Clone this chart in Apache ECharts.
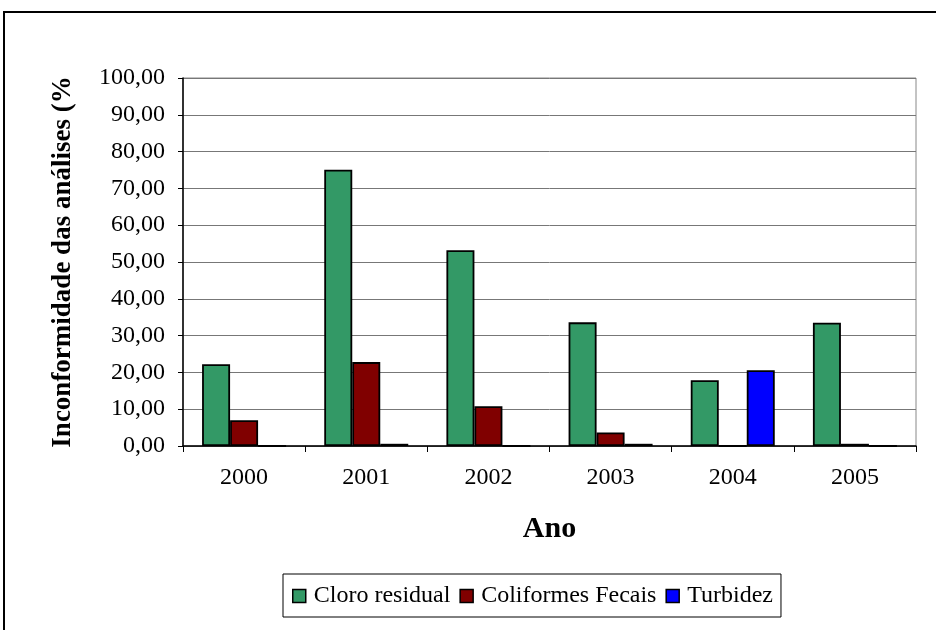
<!DOCTYPE html>
<html>
<head>
<meta charset="utf-8">
<script src="https://cdn.jsdelivr.net/npm/echarts@6/dist/echarts.min.js"></script>
<style>
  html, body { margin: 0; padding: 0; background: #fff; }
  #chart { width: 936px; height: 630px; }
</style>
</head>
<body>
<div id="chart"></div>
<script>
// Percentage of non-conforming analyses per year and parameter
const anos = ['2000', '2001', '2002', '2003', '2004', '2005'];
const cloroResidual = [22.2, 75.1, 53.2, 33.6, 17.9, 33.5];
const coliformesFecais = [7.0, 22.8, 10.8, 3.7, 0, 0.6];
const turbidez = [0, 0.6, 0, 0.6, 20.6, 0];
const yTicks = [0, 10, 20, 30, 40, 50, 60, 70, 80, 90, 100];

const serif = '"Liberation Serif", "Times New Roman", serif';
const chart = echarts.init(document.getElementById('chart'), null, { renderer: 'canvas' });

function barSeries(name, data, color) {
  return {
    name: name,
    type: 'bar',
    data: data,
    barWidth: 28,
    barGap: '0%',
    itemStyle: { color: color, borderColor: '#000', borderWidth: 1.8 },
    emphasis: { disabled: true },
    animation: false
  };
}

chart.setOption({
  backgroundColor: '#fff',
  animation: false,
  textStyle: { fontFamily: serif },
  grid: { left: 183, right: 20, top: 78, bottom: 184, containLabel: false,
          show: true, borderColor: '#888', borderWidth: 1 },
  graphic: [{
    type: 'rect',
    shape: { x: 4, y: 12, width: 960, height: 650 },
    style: { fill: 'none', stroke: '#000', lineWidth: 2 },
    silent: true
  }],
  legend: {
    data: ['Cloro residual', 'Coliformes Fecais', 'Turbidez'],
    left: 283, top: 574,
    orient: 'horizontal',
    itemWidth: 13, itemHeight: 13, itemGap: 9,
    padding: [10, 8, 9, 9],
    borderColor: '#000', borderWidth: 1,
    icon: 'rect',
    itemStyle: { borderColor: '#000', borderWidth: 1.5 },
    textStyle: { fontFamily: serif, fontSize: 24, color: '#000', padding: [0, 0, 0, 3] },
    selectedMode: false
  },
  xAxis: {
    type: 'category',
    data: anos,
    boundaryGap: true,
    name: 'Ano',
    nameLocation: 'middle',
    nameGap: 68,
    nameTextStyle: { fontFamily: serif, fontSize: 30, fontWeight: 'bold', color: '#000' },
    axisLine: { lineStyle: { color: '#000', width: 1.5 } },
    axisTick: { show: true, length: 6, alignWithLabel: false, lineStyle: { color: '#000', width: 1 } },
    axisLabel: { fontFamily: serif, fontSize: 24, color: '#000', margin: 20 },
    splitLine: { show: false }
  },
  yAxis: {
    type: 'value',
    min: yTicks[0],
    max: yTicks[yTicks.length - 1],
    interval: yTicks[1] - yTicks[0],
    name: 'Inconformidade das análises (%',
    nameLocation: 'middle',
    nameGap: 106,
    nameRotate: 90,
    nameTextStyle: { fontFamily: serif, fontSize: 27, fontWeight: 'bold', color: '#000' },
    axisLine: { show: true, lineStyle: { color: '#000', width: 1.5 } },
    axisTick: { show: true, length: 5, lineStyle: { color: '#000', width: 1 } },
    axisLabel: {
      fontFamily: serif, fontSize: 24, color: '#000', margin: 18,
      formatter: v => v.toFixed(2).replace('.', ',')
    },
    splitLine: { show: true, lineStyle: { color: '#777', width: 1 } }
  },
  series: [
    barSeries('Cloro residual', cloroResidual, '#339966'),
    barSeries('Coliformes Fecais', coliformesFecais, '#800000'),
    barSeries('Turbidez', turbidez, '#0000ff')
  ]
});
</script>
</body>
</html>
